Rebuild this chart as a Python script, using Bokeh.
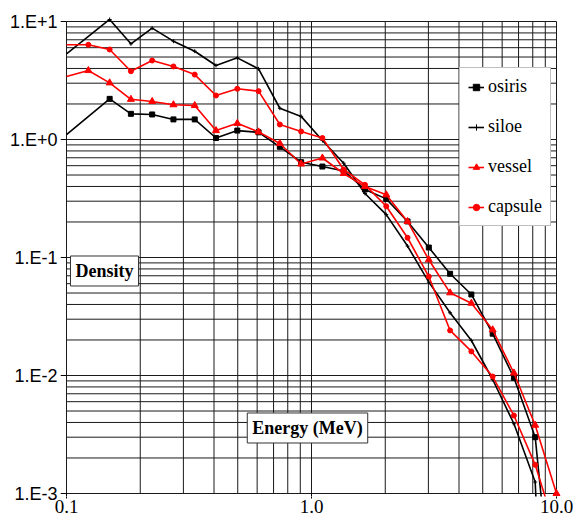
from bokeh.plotting import figure
from bokeh.models import FixedTicker, Legend, LegendItem, Label, ColumnDataSource, CDSView, IndexFilter
from bokeh.embed import file_html
from bokeh.resources import INLINE

# ---- data ----
energy_red = [0.1, 0.1228, 0.150, 0.1832, 0.2237, 0.2732, 0.3337, 0.4076, 0.4979,
              0.6081, 0.7427, 0.9072, 1.108, 1.353, 1.653, 2.019, 2.466, 3.012,
              3.679, 4.493, 5.488, 6.703, 8.187, 10.0]
energy_black = [0.1, 0.150, 0.1832, 0.2237, 0.2732, 0.3337, 0.4076, 0.4979,
                0.6081, 0.7427, 0.9072, 1.108, 1.353, 1.653, 2.019, 2.466, 3.012,
                3.679, 4.493, 5.488, 6.703, 8.187, 10.0]
osiris = [1.10, 2.21, 1.65, 1.63, 1.48, 1.48, 1.03, 1.19, 1.15, 0.867, 0.642, 0.590,
          0.541, 0.377, 0.314, 0.202, 0.1215, 0.0728, 0.0486, 0.0226, 0.00956, 0.0030, 4.7e-5]
siloe = [5.32, 10.4, 6.47, 8.78, 6.81, 5.60, 4.24, 4.92, 3.97, 1.84, 1.57, 0.98,
         0.630, 0.349, 0.231, 0.125, 0.0618, 0.0340, 0.0198, 0.00925, 0.00390, 0.00125, 1e-7]
vessel = [3.42, 3.84, 3.02, 2.19, 2.10, 1.97, 1.94, 1.19, 1.37, 1.16, 0.925, 0.620,
          0.697, 0.515, 0.400, 0.340, 0.202, 0.0956, 0.0502, 0.0410, 0.0244, 0.0105, 0.00379, 0.00100]
capsule = [6.35, 6.35, 5.79, 3.79, 4.67, 4.16, 3.55, 2.36, 2.69, 2.57, 1.34, 1.17,
           1.03, 0.557, 0.413, 0.272, 0.147, 0.069, 0.0241, 0.0160, 0.0098, 0.00458, 0.00175, 0.00046]

x_ticks = [0.1, 1.0, 10.0]
x_tick_labels = ["0.1", "1.0", "10.0"]
y_ticks = [0.001, 0.01, 0.1, 1.0, 10.0]
y_tick_labels = ["1.E-3", "1.E-2", "1.E-1", "1.E+0", "1.E+1"]
x_title = "Energy (MeV)"
y_title = "Density"

# ---- figure ----
X0, X1 = 0.1, 10.0
Y0, Y1 = 0.001, 10.0
x_start = 10 ** (-1 - 6 / 245.0)
x_end = 10 ** (1 + 10 / 245.0)
y_start = 10 ** (-3 - 3 / 118.0)
y_end = 10 ** (1 + 5 / 118.0)

p = figure(width=576, height=520, x_axis_type="log", y_axis_type="log",
           x_range=(x_start, x_end), y_range=(y_start, y_end),
           output_backend="svg", toolbar_location=None,
           min_border_left=60, min_border_right=10, min_border_top=16, min_border_bottom=24)
p.outline_line_color = None
p.xgrid.visible = False
p.ygrid.visible = False
p.background_fill_color = "white"

# axes
p.xaxis.ticker = FixedTicker(ticks=x_ticks, minor_ticks=[])
p.yaxis.ticker = FixedTicker(ticks=y_ticks, minor_ticks=[])
p.xaxis.major_label_overrides = dict(zip(x_ticks, x_tick_labels))
p.yaxis.major_label_overrides = dict(zip(y_ticks, y_tick_labels))
for ax in (p.xaxis[0], p.yaxis[0]):
    ax.axis_line_color = None
    ax.major_tick_in = 0
    ax.minor_tick_in = 0
    ax.minor_tick_out = 0
    ax.major_label_text_color = "black"
    ax.major_tick_line_color = "black"
p.xaxis.major_tick_out = 2
p.xaxis.major_label_standoff = 1
p.xaxis.major_label_text_font = "Liberation Serif"
p.xaxis.major_label_text_font_size = "19px"
p.yaxis.major_tick_out = 0
p.yaxis.major_label_standoff = 3
p.yaxis.major_label_text_font = "Liberation Sans"
p.yaxis.major_label_text_font_size = "18px"

# grid (log minor lines)
gx = [m * 10.0 ** d for d in (-1, 0) for m in range(1, 10)] + [10.0]
gy = [m * 10.0 ** d for d in (-3, -2, -1, 0) for m in range(1, 10)] + [10.0]
p.segment(x0=gx, y0=[Y0] * len(gx), x1=gx, y1=[Y1] * len(gx), line_color="#1a1a1a", line_width=1)
p.segment(x0=[X0] * len(gy), y0=gy, x1=[X1] * len(gy), y1=gy, line_color="#1a1a1a", line_width=1)
# tick marks
p.segment(x0=[x_start] * len(y_ticks), y0=y_ticks, x1=[X0] * len(y_ticks), y1=y_ticks, line_color="black", line_width=1)
p.segment(x0=x_ticks, y0=[Y0] * len(x_ticks), x1=x_ticks, y1=[y_start] * len(x_ticks), line_color="black", line_width=1)

# series
lw = 1.6
src_b = ColumnDataSource(dict(x=energy_black, osiris=osiris, siloe=siloe))
src_r = ColumnDataSource(dict(x=energy_red, vessel=vessel, capsule=capsule))
view_b = CDSView(filter=IndexFilter(list(range(1, len(energy_black)))))
view_r = CDSView(filter=IndexFilter(list(range(1, len(energy_red)))))

l1 = p.line("x", "osiris", source=src_b, line_color="black", line_width=lw)
s1 = p.scatter("x", "osiris", source=src_b, view=view_b, marker="square", size=5,
               fill_color="black", line_color="black")
l2 = p.line("x", "siloe", source=src_b, line_color="black", line_width=lw)
s2 = p.scatter("x", "siloe", source=src_b, view=view_b, marker="cross", size=4,
               line_color="black", line_width=1)
l3 = p.line("x", "vessel", source=src_r, line_color="#ff0000", line_width=lw)
s3 = p.scatter("x", "vessel", source=src_r, view=view_r, marker="triangle", size=7,
               fill_color="#ff0000", line_color="#ff0000")
l4 = p.line("x", "capsule", source=src_r, line_color="#ff0000", line_width=lw)
s4 = p.scatter("x", "capsule", source=src_r, view=view_r, marker="circle", size=5,
               fill_color="#ff0000", line_color="#ff0000")

legend = Legend(items=[LegendItem(label="osiris", renderers=[l1, s1]),
                       LegendItem(label="siloe", renderers=[l2, s2]),
                       LegendItem(label="vessel", renderers=[l3, s3]),
                       LegendItem(label="capsule", renderers=[l4, s4])],
                location=(399, 270), orientation="vertical",
                glyph_width=16, glyph_height=20, label_height=20, spacing=19,
                padding=8, margin=0, label_standoff=4,
                label_text_font="Liberation Serif", label_text_font_size="18px",
                label_text_color="black",
                border_line_color="#808080", border_line_width=1,
                background_fill_color="white", background_fill_alpha=1.0)
p.add_layout(legend)

for txt, lx, ly in ((y_title, 0.1429, 0.07685), (x_title, 0.9631, 0.003590)):
    p.add_layout(Label(x=lx, y=ly, text=txt, text_align="center", text_baseline="middle",
                       text_font="Liberation Serif", text_font_style="bold",
                       text_font_size="18px", text_color="black",
                       border_line_color="#333333", border_line_width=1,
                       background_fill_color="white", background_fill_alpha=1.0,
                       padding=5))

open("out.html", "w").write(file_html(p, INLINE))
